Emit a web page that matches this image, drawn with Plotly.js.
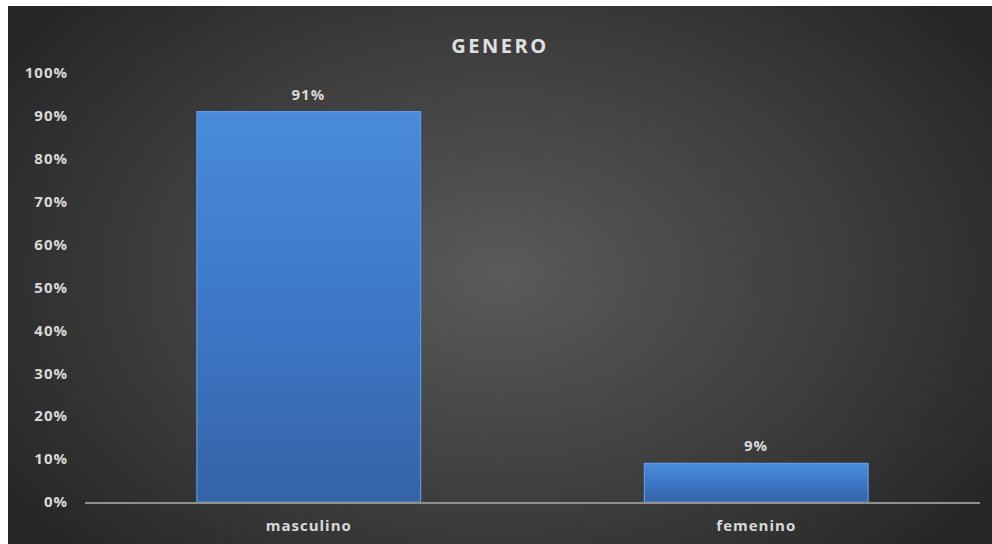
<!DOCTYPE html>
<html>
<head>
<meta charset="utf-8">
<script src="https://cdn.plot.ly/plotly-3.0.1.min.js"></script>
<style>
  html, body { margin: 0; padding: 0; background: #ffffff; }
  #chart {
    position: absolute; left: 8px; top: 6px; width: 984px; height: 538px;
    background: radial-gradient(ellipse 60% 75% at 50% 50%, #5a5a5a 0%, #3c3c3c 60%, #262626 100%);
  }
  #chart .gtitle { letter-spacing: 2.5px; }
  #chart .xtick text, #chart .ytick text, #chart .annotation-text { letter-spacing: 1px; }
</style>
</head>
<body>
<div id="chart"></div>
<script>
const categories = ["masculino", "femenino"];
const values = [0.91, 0.09];
const yTickVals = [0, 0.1, 0.2, 0.3, 0.4, 0.5, 0.6, 0.7, 0.8, 0.9, 1.0];
const yTickText = ["0%", "10%", "20%", "30%", "40%", "50%", "60%", "70%", "80%", "90%", "100%"];
const titleText = "GENERO";

const labelFont = { family: "Open Sans, Lato, sans-serif", size: 15, color: "#d9d9d9", weight: "bold" };

const trace = {
  type: "bar",
  x: categories,
  y: values,
  marker: { color: "#3c76c4", line: { color: "#5c9ae2", width: 1.2 } },
  cliponaxis: false,
  hoverinfo: "none"
};

const annotations = categories.map((c, i) => ({
  x: c, y: values[i], xref: "x", yref: "y",
  text: Math.round(values[i] * 100) + "%",
  showarrow: false, yanchor: "bottom", yshift: 6,
  font: labelFont
}));

const layout = {
  width: 984, height: 538,
  paper_bgcolor: "rgba(0,0,0,0)",
  plot_bgcolor: "rgba(0,0,0,0)",
  margin: { l: 77, r: 12, t: 67, b: 42 },
  bargap: 0.5,
  showlegend: false,
  annotations: annotations,
  title: {
    text: "<b>" + titleText + "</b>",
    font: { family: "Open Sans, Lato, sans-serif", size: 20, color: "#e0e0e0" },
    x: 0.5, xanchor: "center", xref: "container",
    y: 1 - 40 / 538, yanchor: "middle", yref: "container"
  },
  xaxis: {
    type: "category",
    showline: true, linecolor: "#8f8f8f", linewidth: 1.5,
    showgrid: false, zeroline: false, ticks: "",
    ticklabelstandoff: 9,
    tickfont: labelFont
  },
  yaxis: {
    range: [0, 1.0],
    tickvals: yTickVals, ticktext: yTickText,
    showgrid: false, zeroline: false, showline: false, ticks: "",
    ticklabelstandoff: 16,
    tickfont: labelFont
  }
};

Plotly.newPlot("chart", [trace], layout, { displayModeBar: false, staticPlot: true }).then(gd => {
  const svg = gd.querySelector("svg.main-svg");
  const ns = "http://www.w3.org/2000/svg";
  let defs = svg.querySelector("defs");
  if (!defs) { defs = document.createElementNS(ns, "defs"); svg.insertBefore(defs, svg.firstChild); }
  const grad = document.createElementNS(ns, "linearGradient");
  grad.setAttribute("id", "barGrad");
  grad.setAttribute("x1", "0"); grad.setAttribute("y1", "0");
  grad.setAttribute("x2", "0"); grad.setAttribute("y2", "1");
  [["0", "#4a8bdb"], ["0.5", "#3d78c8"], ["1", "#3563a6"]].forEach(([o, c]) => {
    const s = document.createElementNS(ns, "stop");
    s.setAttribute("offset", o); s.setAttribute("stop-color", c);
    grad.appendChild(s);
  });
  defs.appendChild(grad);
  gd.querySelectorAll(".bars .point path").forEach(p => { p.style.fill = "url(#barGrad)"; });
});
</script>
</body>
</html>
